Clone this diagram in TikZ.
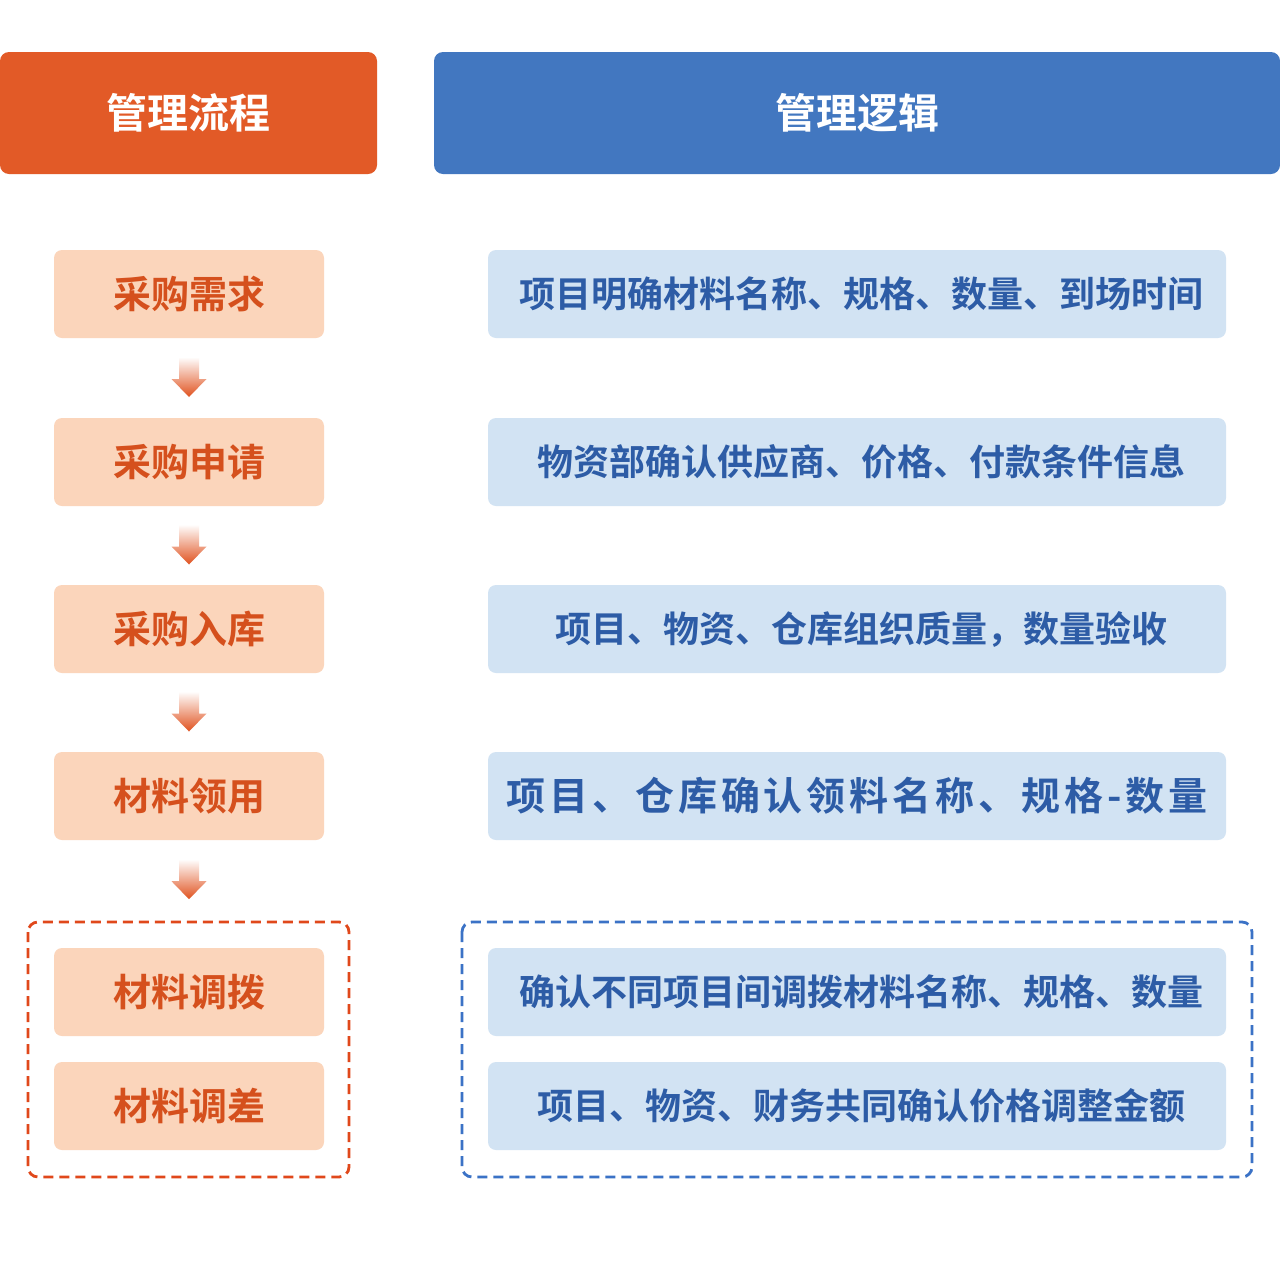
\documentclass[tikz,border=0pt]{standalone}
\usepackage{fontspec}
\usetikzlibrary{calc}
\newfontfamily\cjk{Noto Sans CJK SC}[BoldFont={Noto Sans CJK SC Bold}]
\newfontfamily\cjkwide{Noto Sans CJK SC}[BoldFont={Noto Sans CJK SC Bold},LetterSpace=10]
\definecolor{headO}{HTML}{E25A27}
\definecolor{headB}{HTML}{4277C0}
\definecolor{peach}{HTML}{FBD5BB}
\definecolor{peachT}{HTML}{D5501D}
\definecolor{lblue}{HTML}{D2E3F3}
\definecolor{blueT}{HTML}{2D5CA6}
\definecolor{dashR}{HTML}{E0481B}
\definecolor{dashB}{HTML}{3B72C6}
\definecolor{arrowC}{HTML}{E0521F}
\tikzset{
  header/.style={rounded corners=9pt, minimum height=122pt, inner sep=0pt, text=white,
    font=\cjk\bfseries\fontsize{41}{45}\selectfont},
  leftbox/.style={fill=peach, rounded corners=8pt, minimum width=270pt, minimum height=88pt,
    inner sep=0pt, text=peachT, font=\cjk\bfseries\fontsize{38}{42}\selectfont},
  rightbox/.style={fill=lblue, rounded corners=8pt, minimum width=738pt, minimum height=88pt,
    inner sep=0pt, text=blueT, font=\cjk\bfseries\fontsize{36}{40}\selectfont},
  groupbox/.style={dash pattern=on 10pt off 6pt, line width=2.8pt, rounded corners=10pt},
  flowarrow/.style={top color=white, bottom color=arrowC, draw=none}
}
\begin{document}
\begin{tikzpicture}[x=1pt,y=-1pt]
\useasboundingbox (0,0) rectangle (1280,1280);
\fill[white] (0,0) rectangle (1280,1280);
% headers
\node[header, fill=headO, minimum width=377pt] (hL) at (188.5,113) {管理流程};
\node[header, fill=headB, minimum width=846pt] (hR) at (857,113) {管理逻辑};
% dashed groups
\draw[groupbox, draw=dashR] (28,922) rectangle (349,1177);
\draw[groupbox, draw=dashB] (462,922) rectangle (1252,1177);
% left boxes
\node[leftbox] (l1) at (189,294) {采购需求};
\node[leftbox] (l2) at (189,462) {采购申请};
\node[leftbox] (l3) at (189,629) {采购入库};
\node[leftbox] (l4) at (189,796) {材料领用};
\node[leftbox] (l5) at (189,992) {材料调拨};
\node[leftbox] (l6) at (189,1106) {材料调差};
% right boxes
\node[rightbox] (r1) at (857,294) {\hspace*{9pt}项目明确材料名称、规格、数量、到场时间};
\node[rightbox] (r2) at (857,462) {\hspace*{9pt}物资部确认供应商、价格、付款条件信息};
\node[rightbox] (r3) at (857,629) {\hspace*{9pt}项目、物资、仓库组织质量，数量验收};
\node[rightbox, font=\cjkwide\bfseries\fontsize{39}{43}\selectfont] (r4) at (857,796) {项目、仓库确认领料名称、规格-数量};
\node[rightbox] (r5) at (857,992) {\hspace*{9pt}确认不同项目间调拨材料名称、规格、数量};
\node[rightbox] (r6) at (857,1106) {\hspace*{9pt}项目、物资、财务共同确认价格调整金额};
% arrows
\foreach \a/\b/\m in {l1/l2/m1, l2/l3/m2, l3/l4/m3}{
  \coordinate (\m) at ($(\a.south)!0.5!(\b.north)$);
}
\coordinate (m4) at ($(l4.south)+(0,40)$);
\foreach \m in {m1,m2,m3,m4}{
  \shade[flowarrow] ($(\m)+(-10,-21)$) -- ($(\m)+(10,-21)$) -- ($(\m)+(10,1)$)
     -- ($(\m)+(17.5,1)$) -- ($(\m)+(0,19)$) -- ($(\m)+(-17.5,1)$) -- ($(\m)+(-10,1)$) -- cycle;
}
\end{tikzpicture}
\end{document}
